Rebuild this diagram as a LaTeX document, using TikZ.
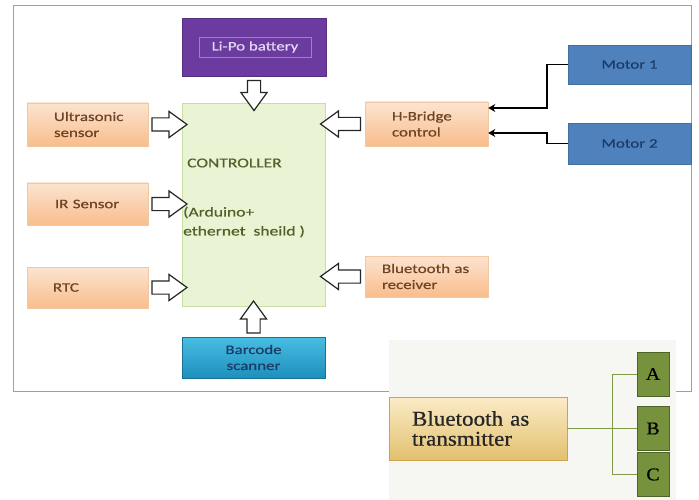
\documentclass[tikz,border=0pt]{standalone}
\usepackage{fontspec}
\setmainfont{Carlito}
\newfontfamily\lab[FakeStretch=1.3,FakeBold=0.6]{Carlito}
\newfontfamily\serf[FakeStretch=1.1,FakeBold=0.5]{Liberation Serif}
\usetikzlibrary{shapes.arrows,arrows.meta,calc}
\definecolor{orTop}{HTML}{FCE4D0}
\definecolor{orBot}{HTML}{F9BD8C}
\definecolor{orLine}{HTML}{F2C8A4}
\definecolor{orText}{HTML}{6E4425}
\definecolor{ctrlFill}{HTML}{EAF4D4}
\definecolor{ctrlLine}{HTML}{C6DFA2}
\definecolor{ctrlText}{HTML}{4F6228}
\definecolor{purp}{HTML}{6C3B9F}
\definecolor{purpLine}{HTML}{9C80C8}
\definecolor{purpText}{HTML}{E2D8F2}
\definecolor{cyTop}{HTML}{48BEE2}
\definecolor{cyBot}{HTML}{1E8FBD}
\definecolor{darkBlue}{HTML}{1C3C68}
\definecolor{motBlue}{HTML}{4F81BD}
\definecolor{motLine}{HTML}{41709F}
\definecolor{goldTop}{HTML}{FBEBC7}
\definecolor{goldBot}{HTML}{E2C06E}
\definecolor{goldLine}{HTML}{C9A64E}
\definecolor{olive}{HTML}{76923C}
\definecolor{oliveDark}{HTML}{4F6228}
\definecolor{tLine}{HTML}{7F9A48}
\definecolor{frameGray}{HTML}{A0A0A0}
\definecolor{bgGray}{HTML}{F6F6F3}
\definecolor{arrLine}{HTML}{262626}
\begin{document}
\begin{tikzpicture}[x=1pt,y=-1pt,
  lbl/.style={font=\lab\fontsize{13}{16}\selectfont},
  obox/.style={lbl, top color=orTop, bottom color=orBot, draw=orLine, line width=0.6pt,
    text=orText, align=left, inner xsep=0pt, minimum width=121pt},
  motbox/.style={lbl, fill=motBlue, draw=motLine, line width=0.6pt, text=darkBlue,
    minimum width=123pt},
  barrow/.style={single arrow, draw=arrLine, fill=white, line width=1.2pt,
    inner sep=6pt, single arrow head extend=6.5pt,
    single arrow tip angle=72, single arrow head indent=0pt, minimum width=0pt},
  mline/.style={line width=1.8pt, black, -{Stealth[length=7pt,width=8pt]}},
  tline/.style={line width=0.9pt, tLine},
  abc/.style={fill=olive, draw=oliveDark, line width=0.6pt, minimum width=32pt,
    minimum height=44pt, font=\serf\fontsize{18}{20}\selectfont, text=black, inner sep=0pt}
]
\useasboundingbox (0,0) rectangle (699,500);
\fill[white] (0,0) rectangle (699,500);
\draw[frameGray, line width=0.8pt] (13,5) rectangle (691,391);
\fill[bgGray] (389,340) rectangle (676,500);

% battery
\node[fill=purp, draw=purp!80!black, line width=0.6pt, minimum width=144pt, minimum height=58pt] (bat) at (254,47) {};
\node[draw=purpLine, line width=0.8pt, minimum width=112pt, minimum height=20pt, inner sep=0pt,
  lbl, text=purpText] (batin) at (255,47) {Li-Po battery};

% controller
\node[fill=ctrlFill, draw=ctrlLine, line width=0.8pt, minimum width=143pt, minimum height=203pt] (ctrl) at (253.5,204.5) {};
\node[anchor=west, inner sep=0pt, font=\lab\fontsize{13.5}{16}\selectfont, text=ctrlText] (ctitle) at (187,163) {CONTROLLER};
\node[anchor=west, inner sep=0pt, align=left, font=\lab\fontsize{13.5}{19}\selectfont, text=ctrlText] (csub) at (183,222) {(Arduino+\\ethernet\ \ sheild )};

% left sensors
\node[obox, minimum height=43pt, text width=67pt] (us) at (87.5,124.5) {Ultrasonic\\sensor};
\node[obox, minimum height=42pt, text width=65pt] (ir) at (87.5,204) {IR Sensor};
\node[obox, minimum height=41pt, text width=69pt] (rtc) at (87.5,287.5) {RTC};

% right side
\node[obox, minimum width=123pt, minimum height=44pt, text width=69pt] (hb) at (426.5,124) {H-Bridge\\control};
\node[obox, minimum width=123pt, minimum height=41pt, text width=89pt] (btr) at (426.5,276.5) {Bluetooth as\\receiver};
\node[motbox, minimum height=39pt] (m1) at (629.5,64.5) {Motor 1};
\node[motbox, minimum height=41pt] (m2) at (629.5,143.5) {Motor 2};

% barcode
\node[lbl, top color=cyTop, bottom color=cyBot, draw=cyBot!80!black, line width=0.6pt,
  minimum width=143pt, minimum height=41pt, text=darkBlue, align=center] (bc) at (253.5,357.5) {Barcode\\scanner};

% block arrows
\node[barrow, minimum height=30pt, shape border rotate=270] (a0) at (254,91) {};
\node[barrow, minimum height=35pt] (a1) at ($(us.east)!0.5!(ctrl.west |- us.east)$) {};
\node[barrow, minimum height=35pt] (a2) at ($(ir.east)!0.5!(ctrl.west |- ir.east)$) {};
\node[barrow, minimum height=35pt] (a3) at ($(rtc.east)!0.5!(ctrl.west |- rtc.east)$) {};
\node[barrow, minimum height=40pt, shape border rotate=180] (a4) at ($(hb.west)!0.5!(ctrl.east |- hb.west)$) {};
\node[barrow, minimum height=40pt, shape border rotate=180] (a5) at ($(btr.west)!0.5!(ctrl.east |- btr.west)$) {};
\node[barrow, minimum height=32pt, shape border rotate=90] (a6) at ($(bc.north)!0.5!(bc.north |- ctrl.south)$) {};

% motor connectors
\draw[mline] (m1.west) -| ($(hb.east)+(59,-16)$) -- ($(hb.east)+(0,-16)$);
\draw[mline] (m2.west) -| ($(hb.east)+(59,9)$) -- ($(hb.east)+(0,9)$);

% transmitter
\node[top color=goldTop, bottom color=goldBot, draw=goldLine, line width=0.6pt,
  minimum width=178pt, minimum height=63pt, inner xsep=0pt, text width=132pt, align=left,
  font=\serf\fontsize{21}{20}\selectfont, text=black!85] (btt) at (478,428.5) {Bluetooth as\\transmitter};
\node[abc] (A) at (653,374) {A};
\node[abc] (B) at (653,428.5) {B};
\node[abc] (C) at (653,474.5) {C};
\coordinate (br) at ($(btt.east)+(45,0)$);
\draw[tline] (btt.east) -- (B.west);
\draw[tline] (A.west) -| (br) |- (C.west);
\end{tikzpicture}
\end{document}
